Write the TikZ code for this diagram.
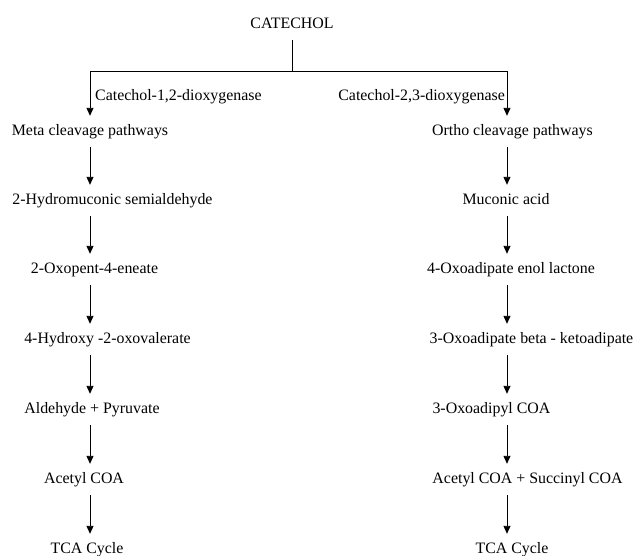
\documentclass[tikz,border=0pt]{standalone}
\usepackage{fontspec}
\setmainfont{Liberation Serif}
\usetikzlibrary{arrows.meta}
\usetikzlibrary{scopes}

\begin{document}
\begin{tikzpicture}[x=1pt,y=-1pt,
	chem/.style={anchor=base,inner xsep=0pt,inner ysep=8pt,text height=11pt,text depth=4pt,font=\fontsize{15.9}{19}\selectfont},
	enzyme/.style={chem,inner sep=0pt}]

\useasboundingbox (0,0) rectangle (638,555);

%top
\node[chem] (cat) at (292,28) {CATECHOL};

\coordinate (jl) at (90,71);
\coordinate (jr) at (507,71);

\node[enzyme,anchor=base west] (enzA) at (95,100) {Catechol-1,2-dioxygenase};
\node[enzyme,anchor=base east] (enzB) at (505,100) {Catechol-2,3-dioxygenase};

%meta side
\node[chem] (meta) at (90,135) {Meta cleavage pathways};
\node[chem] (hydro) at (112.5,204) {2-Hydromuconic semialdehyde};
\node[chem] (oxopent) at (94.5,273) {2-Oxopent-4-eneate};
\node[chem] (hydroxy) at (107.5,343) {4-Hydroxy -2-oxovalerate};
\node[chem] (aldpyr) at (92,413) {Aldehyde + Pyruvate};
\node[chem] (acetylL) at (84,483) {Acetyl COA};
\node[chem] (tcaL) at (87,553) {TCA Cycle};

%ortho side
\node[chem] (ortho) at (512.5,135) {Ortho cleavage pathways};
\node[chem] (muconic) at (506,204) {Muconic acid};
\node[chem] (enol) at (511,273) {4-Oxoadipate enol lactone};
\node[chem] (ketoad) at (531.5,343) {3-Oxoadipate beta - ketoadipate};
\node[chem] (adipyl) at (491.5,413) {3-Oxoadipyl COA};
\node[chem] (acsucc) at (527.5,483) {Acetyl COA + Succinyl COA};
\node[chem] (tcaR) at (512,553) {TCA Cycle};

{[line width=0.9pt]
	% split from catechol
	\draw (cat.south) -- (cat.south |- jl);
	\draw (jl) -- (jr);
}

{[->,>={Triangle[length=8pt,width=7pt]},line width=0.9pt]
	\draw (jl) -- (meta.north -| jl);
	\draw (jr) -- (ortho.north -| jr);

	% meta chain
	\foreach \a/\b in {meta/hydro,hydro/oxopent,oxopent/hydroxy,hydroxy/aldpyr,aldpyr/acetylL,acetylL/tcaL}
	\draw (\a.south -| jl) -- (\b.north -| jl);

	% ortho chain
	\foreach \a/\b in {ortho/muconic,muconic/enol,enol/ketoad,ketoad/adipyl,adipyl/acsucc,acsucc/tcaR}
	\draw (\a.south -| jr) -- (\b.north -| jr);
}

\end{tikzpicture}
\end{document}
